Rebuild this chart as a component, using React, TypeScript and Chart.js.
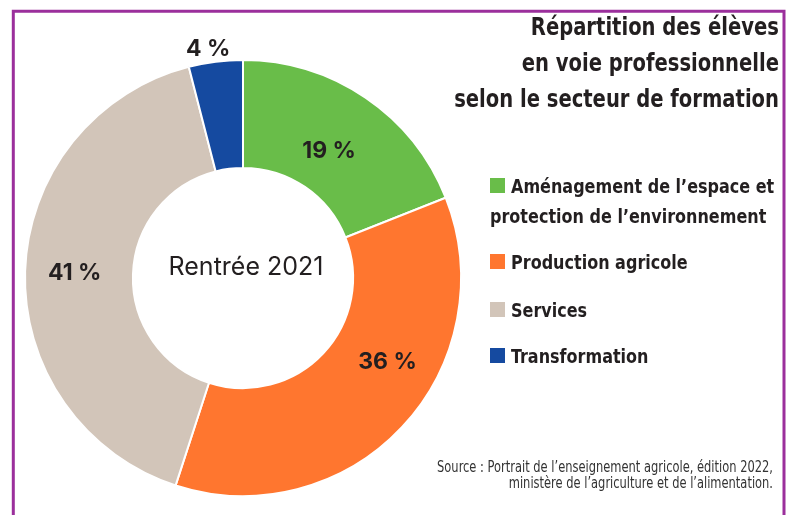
import React, { useEffect, useRef } from 'react';
import { Chart, registerables } from 'chart.js';

Chart.register(...registerables);

const categories = [
  'Aménagement de l’espace et protection de l’environnement',
  'Production agricole',
  'Services',
  'Transformation',
];
const legendLines = [
  ['Aménagement de l’espace et', 'protection de l’environnement'],
  ['Production agricole'],
  ['Services'],
  ['Transformation'],
];
const values = [19, 36, 41, 4];
const valueLabels = ['19 %', '36 %', '41 %', '4 %'];
const colors = ['#69bd49', '#ff762f', '#d2c5b9', '#154aa0'];
const titleLines = ['Répartition des élèves', 'en voie professionnelle', 'selon le secteur de formation'];
const centerText = 'Rentrée 2021';
const sourceLines = [
  'Source : Portrait de l’enseignement agricole, édition 2022,',
  'ministère de l’agriculture et de l’alimentation.',
];

// label placement along each arc: fraction of the angle span, fraction of ring thickness
const labelAngleFrac = [0.5, 0.4, 0.5, 0.4];
const labelRadFrac = [0.4, 0.53, 0.54, 1.13];

const COND = "'Liberation Sans Narrow', 'DejaVu Sans Condensed', 'Roboto Condensed', sans-serif";

function condText(ctx: CanvasRenderingContext2D, text: string, x: number, y: number, sx: number) {
  ctx.save();
  ctx.translate(x, y);
  ctx.scale(sx, 1);
  ctx.fillText(text, 0, 0);
  ctx.restore();
}

const decorPlugin = {
  id: 'decor',
  afterDraw(chart: any) {
    const ctx = chart.ctx as CanvasRenderingContext2D;
    ctx.save();
    // frame
    ctx.strokeStyle = '#9b2f9c';
    ctx.lineWidth = 3;
    ctx.beginPath();
    ctx.moveTo(13.3, 520);
    ctx.lineTo(13.3, 11.3);
    ctx.lineTo(784, 11.3);
    ctx.lineTo(784, 520);
    ctx.stroke();

    // title
    ctx.fillStyle = '#231f20';
    ctx.textAlign = 'right';
    ctx.textBaseline = 'alphabetic';
    ctx.font = `bold 25px ${COND}`;
    titleLines.forEach((t, i) => condText(ctx, t, 779, 35 + i * 36, 0.87));

    // legend
    const legendTop = [178, 254, 302, 348];
    ctx.textAlign = 'left';
    ctx.font = `bold 20px ${COND}`;
    legendLines.forEach((lines, i) => {
      ctx.fillStyle = colors[i];
      ctx.fillRect(490, legendTop[i], 15, 15);
      ctx.fillStyle = '#231f20';
      lines.forEach((t, j) => {
        condText(ctx, t, j === 0 ? 511 : 490, legendTop[i] + 14.5 + j * 30, 0.89);
      });
    });

    // source
    ctx.textAlign = 'right';
    ctx.fillStyle = '#333333';
    ctx.font = `15px ${COND}`;
    sourceLines.forEach((t, i) => condText(ctx, t, 773, 472 + i * 16, 0.85));

    // center text
    const meta = chart.getDatasetMeta(0);
    const a0 = meta.data[0];
    ctx.textAlign = 'center';
    ctx.textBaseline = 'middle';
    ctx.fillStyle = '#231f20';
    ctx.font = '25px Inter, Lato, sans-serif';
    ctx.fillText(centerText, a0.x + 3, a0.y - 11);

    // value labels
    ctx.font = 'bold 23px Inter, Lato, sans-serif';
    meta.data.forEach((arc: any, i: number) => {
      const ang = arc.startAngle + (arc.endAngle - arc.startAngle) * labelAngleFrac[i];
      const r = arc.innerRadius + (arc.outerRadius - arc.innerRadius) * labelRadFrac[i];
      ctx.fillText(valueLabels[i], arc.x + Math.cos(ang) * r, arc.y + Math.sin(ang) * r);
    });
    ctx.restore();
  },
};

export default function App() {
  const ref = useRef<HTMLCanvasElement>(null);
  useEffect(() => {
    document.body.style.margin = '0';
    const chart = new Chart(ref.current!, {
      type: 'doughnut',
      data: {
        labels: categories,
        datasets: [
          {
            data: values,
            backgroundColor: colors,
            borderColor: '#ffffff',
            borderWidth: 2,
          },
        ],
      },
      options: {
        responsive: false,
        animation: false,
        cutout: '50.5%',
        layout: { padding: { left: 24, top: 59, right: 330, bottom: 18 } },
        plugins: {
          legend: { display: false },
          tooltip: { enabled: false },
          title: { display: false },
        },
      },
      plugins: [decorPlugin],
    });
    return () => chart.destroy();
  }, []);
  return (
    <div style={{ width: 792, height: 515, background: '#ffffff' }}>
      <canvas ref={ref} width={792} height={515} />
    </div>
  );
}
